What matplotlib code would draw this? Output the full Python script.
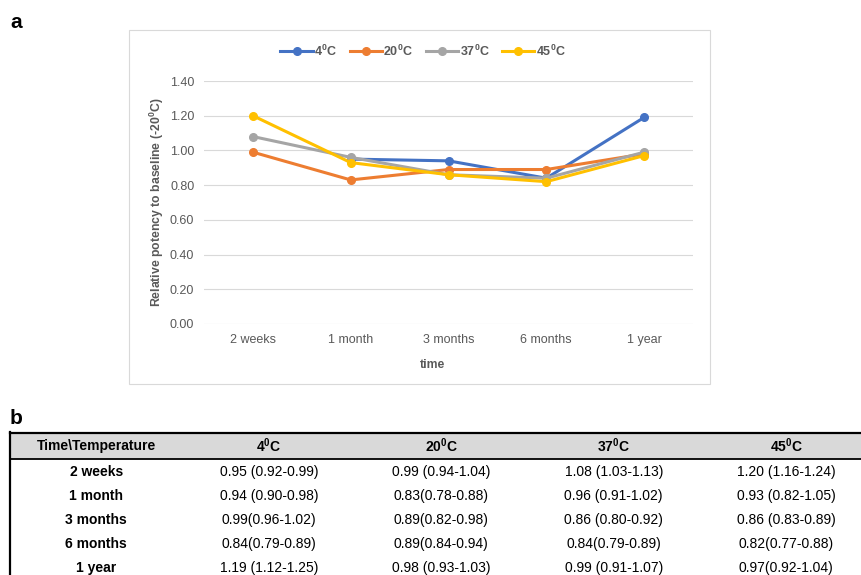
import numpy as np
from matplotlib import pyplot as plt
from matplotlib.patches import Rectangle

plt.rcParams['font.family'] = ['Liberation Sans', 'DejaVu Sans']
plt.rcParams['mathtext.fontset'] = 'custom'
plt.rcParams['mathtext.rm'] = 'Liberation Sans'
plt.rcParams['mathtext.bf'] = 'Liberation Sans:bold'
plt.rcParams['mathtext.it'] = 'Liberation Sans:italic'

W, H = 861, 575

times = ['2 weeks', '1 month', '3 months', '6 months', '1 year']
temps = ['4', '20', '37', '45']
colors = ['#4472C4', '#ED7D31', '#A5A5A5', '#FFC000']

# relative potency per temperature (line chart)
pot_4 = [np.nan, 0.95, 0.94, 0.84, 1.19]
pot_20 = [0.99, 0.83, 0.89, 0.89, 0.98]
pot_37 = [1.08, 0.96, 0.86, 0.84, 0.99]
pot_45 = [1.20, 0.93, 0.86, 0.82, 0.97]

# table entries: estimate (95% CI)
tab_4 = ['0.95 (0.92-0.99)', '0.94 (0.90-0.98)', '0.99(0.96-1.02)', '0.84(0.79-0.89)', '1.19 (1.12-1.25)']
tab_20 = ['0.99 (0.94-1.04)', '0.83(0.78-0.88)', '0.89(0.82-0.98)', '0.89(0.84-0.94)', '0.98 (0.93-1.03)']
tab_37 = ['1.08 (1.03-1.13)', '0.96 (0.91-1.02)', '0.86 (0.80-0.92)', '0.84(0.79-0.89)', '0.99 (0.91-1.07)']
tab_45 = ['1.20 (1.16-1.24)', '0.93 (0.82-1.05)', '0.86 (0.83-0.89)', '0.82(0.77-0.88)', '0.97(0.92-1.04)']


def deg(t):
    # bold "t⁰C" with a real superscript zero
    return t + r'$^{\mathbf{0}}$C'


fig = plt.figure(figsize=(W / 100, H / 100), dpi=100)

# background layer in pixel coordinates: chart frame + table
bg = fig.add_axes([0, 0, 1, 1], zorder=0)
bg.set_xlim(0, W)
bg.set_ylim(H, 0)
bg.axis('off')

bg.add_patch(Rectangle((129, 30), 581, 354, facecolor='white', edgecolor='#d9d9d9', lw=0.8))

fig.text(10 / W, 1 - 22 / H, 'a', fontsize=15, fontweight='bold', va='center', ha='left')
fig.text(10 / W, 1 - 418 / H, 'b', fontsize=15, fontweight='bold', va='center', ha='left')

# line chart
ax = fig.add_axes([204 / W, 1 - 324 / H, 489 / W, 243 / H], zorder=1)
ax.patch.set_alpha(0)
x = np.arange(len(times))
for vals, t, c in zip([pot_4, pot_20, pot_37, pot_45], temps, colors):
    ax.plot(x, vals, color=c, lw=2.2, marker='o', ms=5.5, label=deg(t))
ax.set_xlim(-0.5, len(times) - 0.5)
ax.set_ylim(0, 1.4)
ax.set_yticks(np.arange(0, 1.41, 0.2))
ax.set_yticklabels(['%.2f' % v for v in np.arange(0, 1.41, 0.2)])
ax.set_xticks(x)
ax.set_xticklabels(times)
ax.grid(axis='y', color='#d9d9d9', lw=0.8)
ax.set_axisbelow(True)
for s in ax.spines.values():
    s.set_visible(False)
ax.tick_params(length=0, labelsize=9, labelcolor='#595959', pad=7)

fig.legend(*ax.get_legend_handles_labels(), loc='center', bbox_to_anchor=(423 / W, 1 - 51 / H),
           ncol=4, frameon=False, handlelength=2.6, handletextpad=0.1, columnspacing=1.0,
           prop={'weight': 'bold', 'size': 9}, labelcolor='#595959')

fig.text(432 / W, 1 - 365 / H, 'time', fontsize=8.8, fontweight='bold', color='#595959',
         ha='center', va='center')
fig.text(157 / W, 1 - 202 / H, 'Relative potency to baseline (-' + deg('20') + ')',
         fontsize=8.8, fontweight='bold', color='#595959', rotation=90, ha='center', va='center')

# table
x0 = 10
cw = 172.5
top, hdr_bot = 433, 459
rh = 24
bg.add_patch(Rectangle((x0, top), W - x0, hdr_bot - top, facecolor='#d9d9d9', edgecolor='none'))
bg.plot([x0, W], [top, top], color='black', lw=1.6)
bg.plot([x0, W], [hdr_bot, hdr_bot], color='black', lw=1.3)
bg.plot([x0, x0], [top - 0.8, H], color='black', lw=1.6)

headers = ['Time\\Temperature'] + [deg(t) for t in temps]
for j, h in enumerate(headers):
    bg.text(x0 + cw * (j + 0.5), (top + hdr_bot) / 2, h, ha='center', va='center',
            fontsize=10, fontweight='bold')

cols = [tab_4, tab_20, tab_37, tab_45]
for i, t in enumerate(times):
    yc = hdr_bot + 1 + rh * (i + 0.5)
    bg.text(x0 + cw * 0.5, yc, t, ha='center', va='center', fontsize=10, fontweight='bold')
    for j, col in enumerate(cols):
        bg.text(x0 + cw * (j + 1.5), yc, col[i], ha='center', va='center', fontsize=10)

fig.savefig('out.png', dpi=100)
